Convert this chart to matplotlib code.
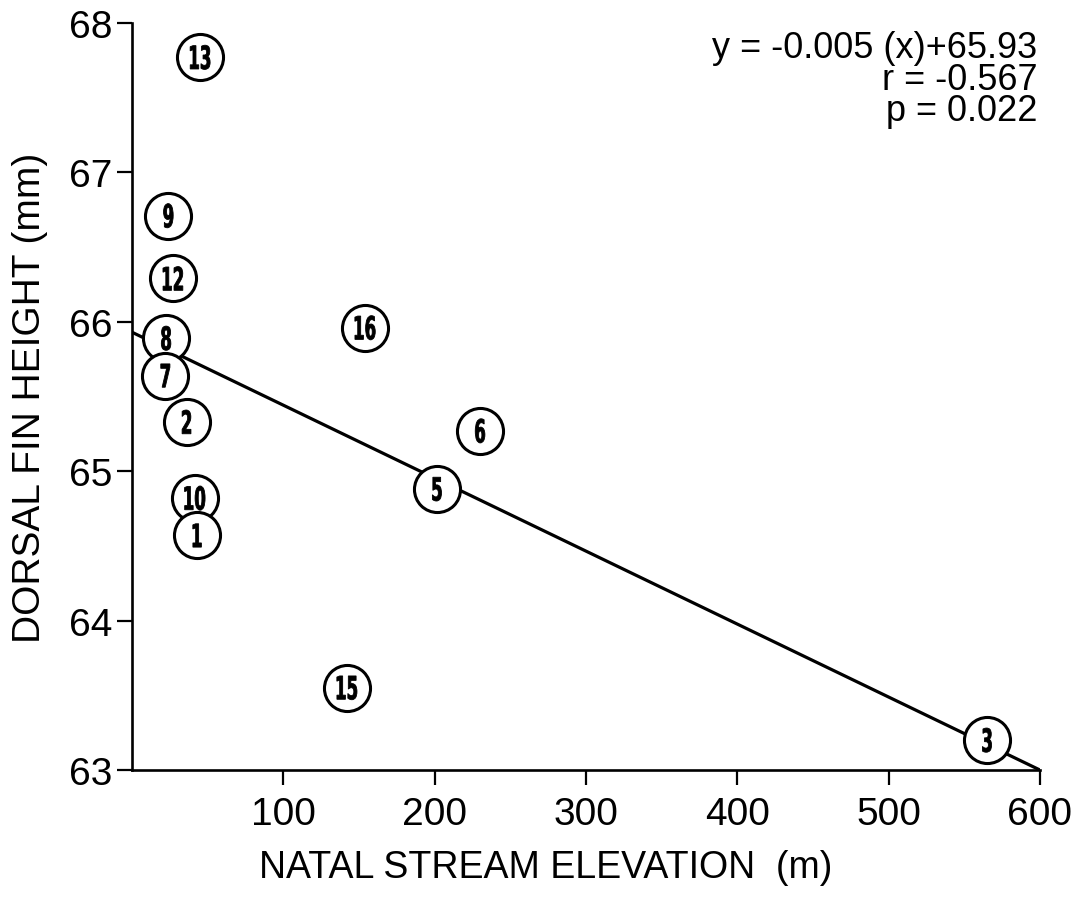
import numpy as np
import matplotlib.pyplot as plt
import matplotlib.transforms as mtransforms
from matplotlib.textpath import TextPath
from matplotlib.patches import PathPatch
from matplotlib.font_manager import FontProperties

# stream number, natal stream elevation (m), dorsal fin height (mm)
stream = ['13', '9', '12', '8', '7', '2', '10', '1', '16', '6', '5', '15', '3']
elev = [45, 24, 27, 22.5, 22, 36, 41.5, 43, 154, 230, 201.5, 142, 565]
fin = [67.77, 66.71, 66.29, 65.89, 65.64, 65.33, 64.82, 64.57, 65.96, 65.27, 64.88, 63.55, 63.2]

# regression line as drawn
fit_x = [0, 600]
fit_y = [65.93, 63.0]

plt.rcParams['font.family'] = ['Liberation Sans', 'DejaVu Sans']

fig = plt.figure(figsize=(10.85, 9.04), dpi=100)
ax = fig.add_axes([0.1217, 0.1471, 0.8368, 0.8264])

ax.set_xlim(0, 600)
ax.set_ylim(63, 68)

ax.plot(fit_x, fit_y, color='black', lw=2.3, zorder=2, solid_capstyle='butt')
ax.scatter(elev, fin, s=1100, facecolor='white', edgecolor='black', linewidth=2.2, zorder=3)

# narrow tall numbers inside the circles
fp = FontProperties(family='DejaVu Sans', weight='bold')
for lab, xx, yy in zip(stream, elev, fin):
    tp = TextPath((0, 0), lab, size=32, prop=fp)
    bb = tp.get_extents()
    cx, cy = (bb.x0 + bb.x1) / 2, (bb.y0 + bb.y1) / 2
    tr = (mtransforms.Affine2D().translate(-cx, -cy).scale(0.52, 1.0)
          + mtransforms.ScaledTranslation(xx, yy, ax.transData))
    ax.add_patch(PathPatch(tp, transform=tr, facecolor='black', edgecolor='black',
                           lw=0.6, zorder=4))

ax.set_xticks([100, 200, 300, 400, 500, 600])
ax.set_yticks([63, 64, 65, 66, 67, 68])
ax.spines['top'].set_visible(False)
ax.spines['right'].set_visible(False)
for s in ['left', 'bottom']:
    ax.spines[s].set_linewidth(1.9)
ax.tick_params(axis='both', direction='out', length=11, width=1.6, labelsize=28)
ax.tick_params(axis='x', pad=8)
ax.tick_params(axis='y', pad=3)

ax.set_ylabel('DORSAL FIN HEIGHT (mm)', fontsize=28, labelpad=15)
fig.text(546 / 1085, 1 - 868 / 904, 'NATAL STREAM ELEVATION  (m)', fontsize=27,
         ha='center', va='center')

ax.text(0.997, 0.99, 'y = -0.005 (x)+65.93\nr = -0.567\np = 0.022', transform=ax.transAxes,
        ha='right', va='top', fontsize=26, linespacing=0.86)

fig.savefig('out.png', dpi=100)
